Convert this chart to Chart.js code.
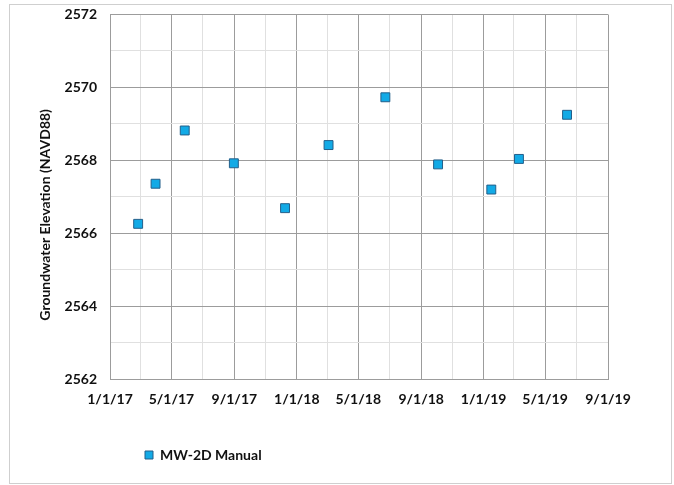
<!DOCTYPE html>
<html>
<head>
<meta charset="utf-8">
<script src="https://cdn.jsdelivr.net/npm/chart.js@4/dist/chart.umd.min.js"></script>
<style>
  html, body { margin: 0; padding: 0; background: #ffffff; }
  #wrap { position: relative; width: 674px; height: 485px; }
</style>
</head>
<body>
<div id="wrap"><canvas id="chart" width="674" height="485"></canvas></div>
<script>
// Manual water-level readings, well MW-2D
const sampleDates = [
  '2017-02-25', '2017-03-31', '2017-05-27', '2017-08-31', '2017-12-09', '2018-03-04',
  '2018-06-23', '2018-10-04', '2019-01-16', '2019-03-11', '2019-06-13'
];
const elevations = [
  2566.26, 2567.36, 2568.82, 2567.92, 2566.69, 2568.42,
  2569.73, 2567.89, 2567.20, 2568.04, 2569.25
];

// Gridline positions on the date axis (every two months); every other one is labelled
const gridDates = [
  '2017-01-01', '2017-03-01', '2017-05-01', '2017-07-01', '2017-09-01', '2017-11-01',
  '2018-01-01', '2018-03-01', '2018-05-01', '2018-07-01', '2018-09-01', '2018-11-01',
  '2019-01-01', '2019-03-01', '2019-05-01', '2019-07-01', '2019-09-01'
];
const xTickLabels = [
  '1/1/17', '', '5/1/17', '', '9/1/17', '', '1/1/18', '', '5/1/18', '',
  '9/1/18', '', '1/1/19', '', '5/1/19', '', '9/1/19'
];
const yMin = 2562, yMax = 2572;

const seriesName = 'MW-2D Manual';
const yTitle = 'Groundwater Elevation (NAVD88)';

// days elapsed since the start of the axis
const origin = Date.UTC(2017, 0, 1);
function toDay(iso) {
  const [y, m, d] = iso.split('-').map(Number);
  return (Date.UTC(y, m - 1, d) - origin) / 86400000;
}
const gridDays = gridDates.map(toDay);
const points = sampleDates.map((d, i) => ({ x: toDay(d), y: elevations[i] }));

const MAJOR = '#9c9c9c';
const MINOR = '#e0e0e0';
const FONT = 'Lato, "Open Sans", sans-serif';

// white page with a thin frame round the whole chart
const framePlugin = {
  id: 'frame',
  beforeDraw(chart) {
    const ctx = chart.ctx;
    ctx.save();
    ctx.fillStyle = '#ffffff';
    ctx.fillRect(0, 0, chart.width, chart.height);
    ctx.strokeStyle = '#cfcfcf';
    ctx.lineWidth = 1;
    ctx.strokeRect(9.5, 4.5, chart.width - 12, chart.height - 6);
    ctx.restore();
  }
};

// legend under the left part of the plot
const legendPlacement = {
  id: 'legendPlacement',
  afterLayout(chart) {
    const lg = chart.legend;
    if (lg) {
      lg.left += 109; lg.right += 109;
      lg.top += 18; lg.bottom += 18;
    }
  }
};

// vertical axis title, set a little below the middle of the plot
const yTitlePlugin = {
  id: 'yTitle',
  afterDraw(chart) {
    const ctx = chart.ctx;
    const area = chart.chartArea;
    ctx.save();
    ctx.translate(45, (area.top + area.bottom) / 2 + 18);
    ctx.rotate(-Math.PI / 2);
    ctx.font = 'bold 14px ' + FONT;
    ctx.fillStyle = '#111';
    ctx.textAlign = 'center';
    ctx.textBaseline = 'middle';
    ctx.fillText(yTitle, 0, 0);
    ctx.restore();
  }
};

new Chart(document.getElementById('chart'), {
  type: 'scatter',
  data: {
    datasets: [{
      label: seriesName,
      data: points,
      pointStyle: 'rect',
      pointRadius: 6.3,
      pointHoverRadius: 6.3,
      backgroundColor: '#12aae6',
      borderColor: '#235f8a',
      borderWidth: 1
    }]
  },
  options: {
    responsive: false,
    animation: false,
    layout: { padding: { left: 26, right: 66, top: 14.5, bottom: 31 } },
    plugins: {
      tooltip: { enabled: false },
      legend: {
        position: 'bottom',
        align: 'start',
        labels: {
          boxWidth: 8,
          boxHeight: 8,
          color: '#111',
          font: { family: FONT, size: 14, weight: 'bold' },
          padding: 10
        }
      }
    },
    scales: {
      x: {
        type: 'linear',
        min: gridDays[0],
        max: gridDays[gridDays.length - 1],
        afterBuildTicks(scale) {
          scale.ticks = gridDays.map(v => ({ value: v }));
        },
        ticks: {
          autoSkip: false,
          maxRotation: 0,
          padding: 12,
          color: '#111',
          font: { family: FONT, size: 14, weight: 'bold' },
          callback(value, index) { return xTickLabels[index]; }
        },
        grid: {
          drawTicks: false,
          color: ctx => (ctx.index % 2 === 0 ? MAJOR : MINOR)
        },
        border: { color: MAJOR }
      },
      y: {
        min: yMin,
        max: yMax,
        afterFit(scale) {
          // fixed axis width (labels plus room for the title); the top label may overhang the plot edge
          scale.width = 84;
          scale.paddingTop = 0;
          scale.paddingBottom = 0;
        },
        ticks: {
          stepSize: 1,
          padding: 13,
          color: '#111',
          font: { family: FONT, size: 14, weight: 'bold' },
          callback(value) { return value % 2 === 0 ? String(value) : ''; }
        },
        grid: {
          drawTicks: false,
          color: ctx => (ctx.tick && ctx.tick.value % 2 === 0 ? MAJOR : MINOR)
        },
        border: { color: MAJOR }
      }
    }
  },
  plugins: [framePlugin, legendPlacement, yTitlePlugin]
});
</script>
</body>
</html>
